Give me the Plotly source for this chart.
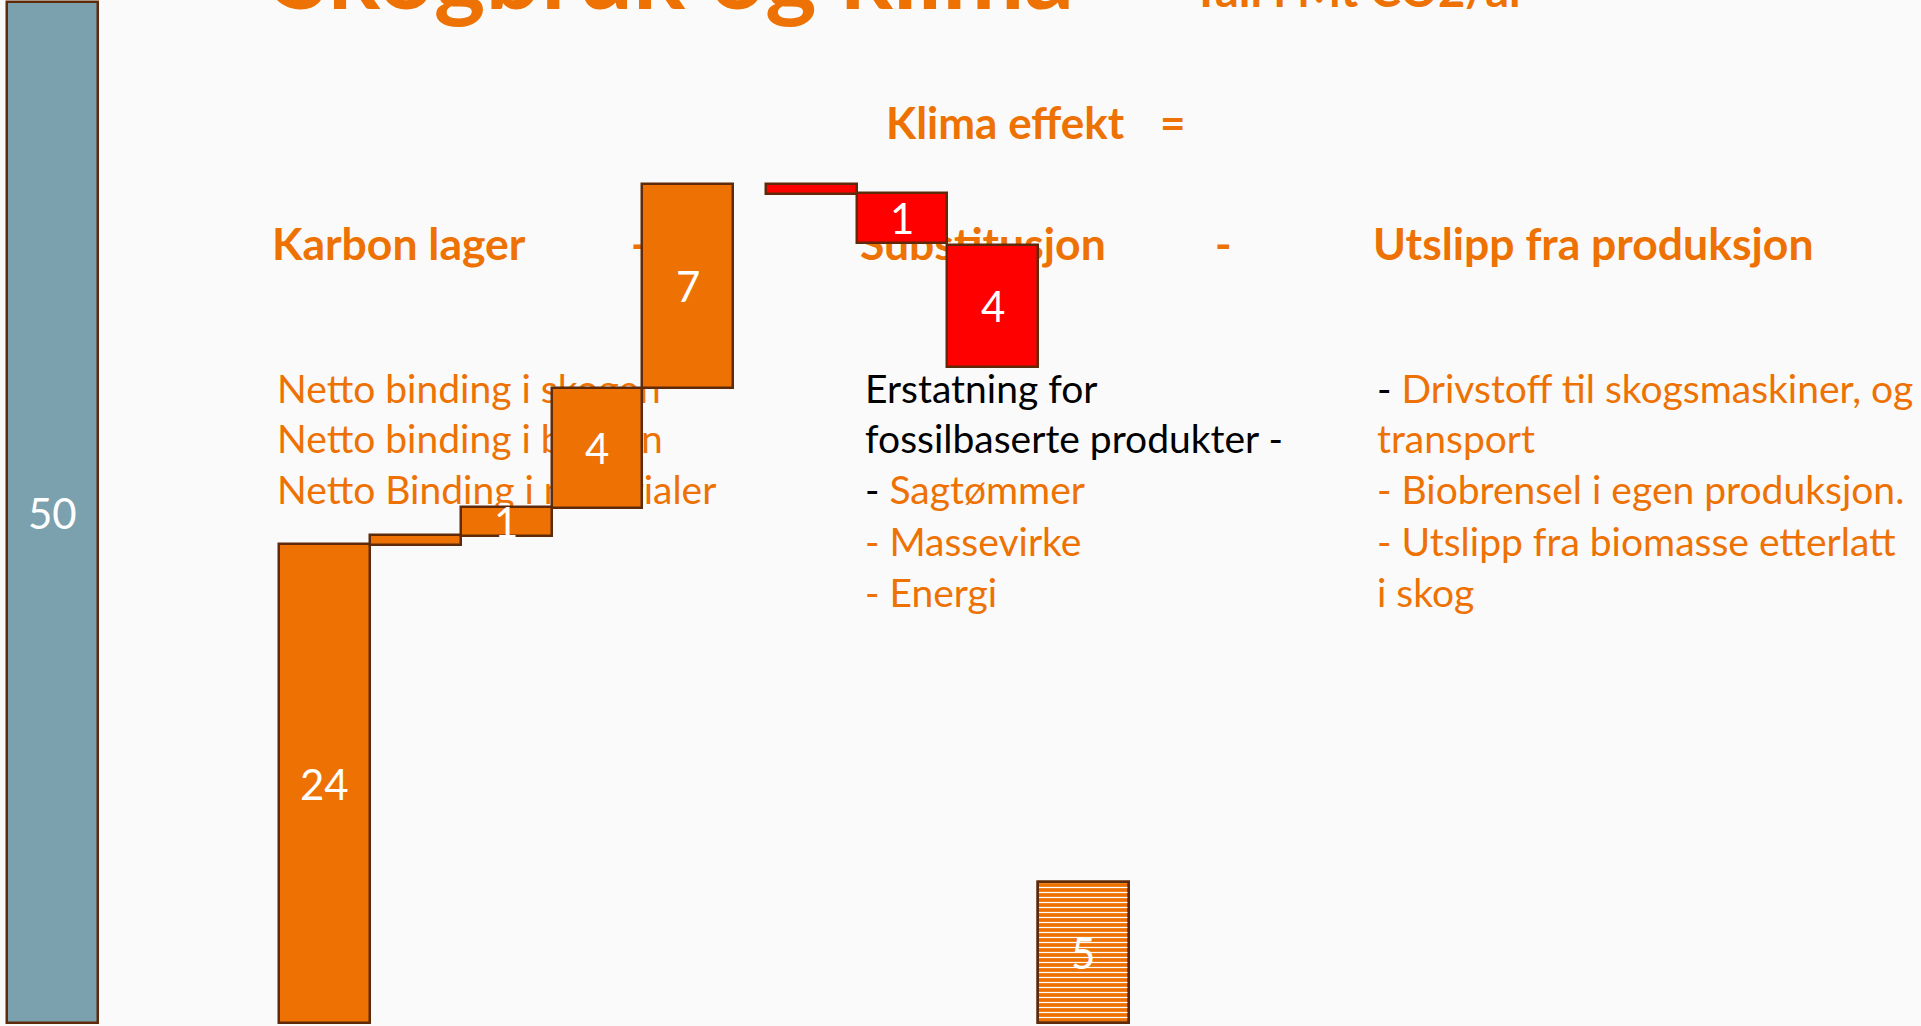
import plotly.graph_objects as go

# ---------------- data ----------------
bar_x = [0, 3, 4, 5, 6, 7, 8.36, 9.36, 10.36, 11.36]          # slot positions
bar_base = [0, 0, 23.4, 23.85, 25.2, 31.1, 41.1, 40.65, 38.1, 0]
bar_height = [50, 23.45, 0.5, 1.4, 5.9, 10.0, -0.5, -2.45, -5.95, 6.9]
bar_labels = ["50", "24", "", "1", "4", "7", "", "1", "4", "5"]
bar_kind = ["total", "lager", "lager", "lager", "lager", "lager",
            "subst", "subst", "subst", "utslipp"]

title_text = "Skogbruk og klima"
unit_text = "Tall i Mt CO2/år"
klima_text = "Klima effekt"
headers = ["Karbon lager", "-", "Substitusjon", "-", "Utslipp fra produksjon"]
lager_lines = ["Netto binding i skogen", "Netto binding i bakken", "Netto Binding i materialer"]
subst_lines = ["Erstatning for", "fossilbaserte produkter -", "- Sagtømmer", "- Massevirke", "- Energi"]
utslipp_lines = ["- Drivstoff til skogsmaskiner, og", "transport", "- Biobrensel i egen produksjon.",
                 "- Utslipp fra biomasse etterlatt", "i skog"]

# ---------------- styles ----------------
ORANGE = "#ED7203"
RED = "#FF0000"
BLUE = "#7BA0AE"
EDGE = "#5E2A0A"
BG = "#FAFAFA"
FONT = "Lato"

colors = {"total": BLUE, "lager": ORANGE, "subst": RED, "utslipp": ORANGE}
bar_colors = [colors[k] for k in bar_kind]

fig = go.Figure()

def text_trace(xs, ys, texts, size, bold=False, color=ORANGE):
    t = [("<b>%s</b>" % s) if bold else s for s in texts]
    fig.add_trace(go.Scatter(
        x=xs, y=ys, text=t, mode="text", textposition="middle right",
        textfont=dict(family=FONT, size=size, color=color),
        hoverinfo="skip", showlegend=False, xaxis="x", yaxis="y"))

# title (cut off at top)
text_trace([275], [-16], [title_text], 98, bold=True)
text_trace([1192], [-5], [unit_text], 47, bold=True)
text_trace([886], [128], [klima_text], 44, bold=True)
text_trace([1160], [128], ["="], 44, bold=True)

# section headers
text_trace([272, 631, 860, 1215, 1373], [249] * 5, headers, 44.5, bold=True)

# body text
line_y = [393, 443, 494, 546, 597]
text_trace([277] * 3, line_y[:3], lager_lines, 39)

def colored(s, black_prefix_only=False, all_black=False):
    if all_black:
        return '<span style="color:black">%s</span>' % s
    if black_prefix_only and s.startswith("- "):
        return '<span style="color:black">-</span> ' + s[2:]
    return s

subst_rich = [colored(subst_lines[0], all_black=True), colored(subst_lines[1], all_black=True),
              colored(subst_lines[2], black_prefix_only=True), subst_lines[3], subst_lines[4]]
text_trace([865] * 5, line_y, subst_rich, 39)
utslipp_rich = [colored(utslipp_lines[0], black_prefix_only=True)] + utslipp_lines[1:]
text_trace([1377] * 5, line_y, utslipp_rich, 39)

# bars (overlay subplot so they sit above the text)
fig.add_trace(go.Bar(
    x=bar_x, y=bar_height, base=bar_base, width=1.0,
    marker=dict(color=bar_colors, line=dict(color=EDGE, width=2.5)),
    hoverinfo="skip", showlegend=False, xaxis="x2", yaxis="y2"))

# white dash texture on the "utslipp" bar
idx = [i for i, k in enumerate(bar_kind) if k == "utslipp"]
fig.add_trace(go.Bar(
    x=[bar_x[i] for i in idx], y=[bar_height[i] for i in idx],
    base=[bar_base[i] for i in idx], width=1.0,
    marker=dict(color="white", line=dict(color=EDGE, width=2.5),
                pattern=dict(shape="-", size=5, solidity=0.25, fillmode="replace")),
    hoverinfo="skip", showlegend=False, xaxis="x2", yaxis="y2"))

for xv, b, h, lab in zip(bar_x, bar_base, bar_height, bar_labels):
    if lab:
        fig.add_annotation(x=xv, y=b + h / 2, xref="x2", yref="y2", text=lab,
                           showarrow=False, font=dict(family=FONT, size=42, color="white"))

hidden = dict(showgrid=False, zeroline=False, showticklabels=False, showline=False, ticks="")
fig.update_layout(
    width=1921, height=1026,
    margin=dict(l=0, r=0, t=0, b=0),
    paper_bgcolor=BG, plot_bgcolor=BG,
    xaxis=dict(range=[0, 1921], domain=[0, 1], **hidden),
    yaxis=dict(range=[1026, 0], domain=[0, 1], **hidden),
    xaxis2=dict(range=[-0.5785, 20.589], overlaying="x", **hidden),
    yaxis2=dict(range=[-0.147, 50.1], overlaying="y", **hidden),
    bargap=0, barmode="overlay",
)

fig.write_html("out.html", config={"displayModeBar": False},
               post_script="document.body.style.margin='0';document.body.style.overflow='hidden';"
                           "document.body.style.background='#FAFAFA';")
